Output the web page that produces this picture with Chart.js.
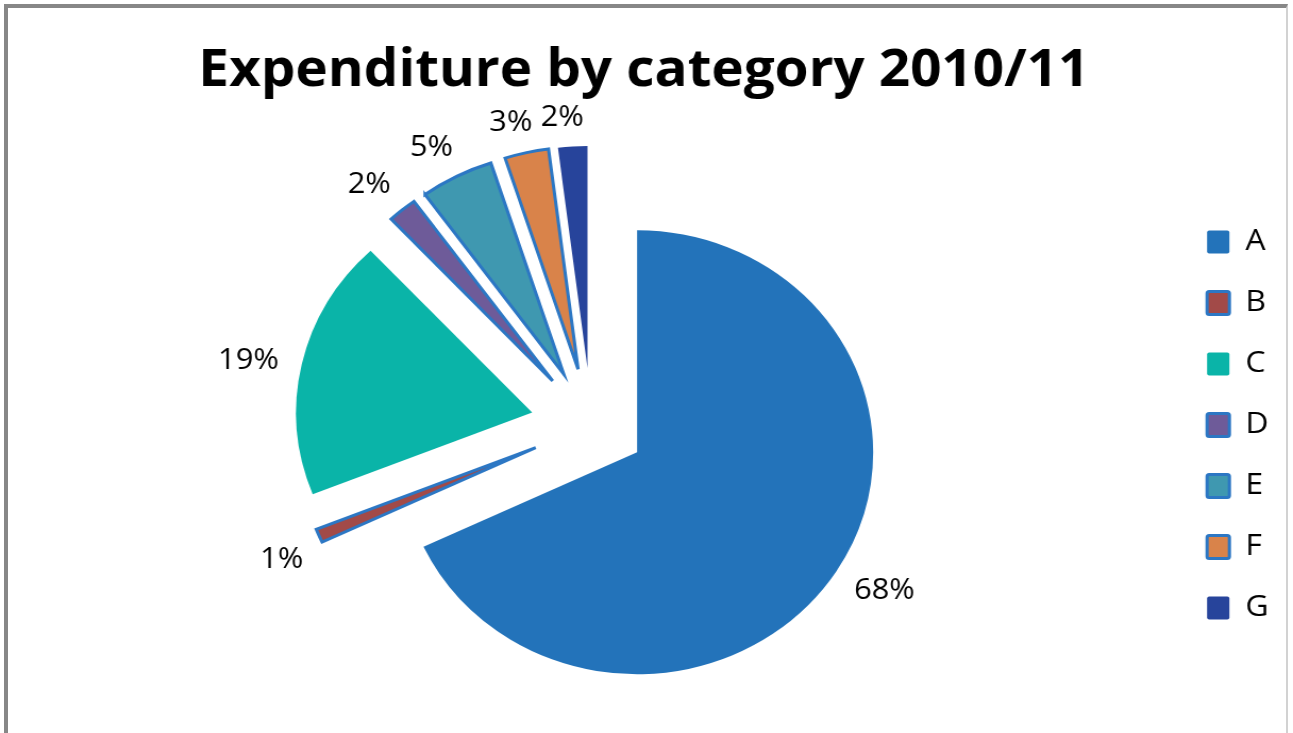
<!DOCTYPE html>
<html lang="en">
<head>
    <meta charset="UTF-8">
    <title>Expenditure by category 2010/11</title>
    <script src="https://cdn.jsdelivr.net/npm/chart.js"></script>
    <style>
        body {
            margin: 0;
            padding: 0;
            background: #ffffff;
            font-family: "Open Sans", sans-serif;
        }
        .wrap {
            position: relative;
            width: 1293px;
            height: 733px;
            overflow: hidden;
        }
        /* chart area frame */
        .frame {
            position: absolute;
            left: 4px;
            top: 4px;
            width: 1284px;
            height: 780px;
            box-sizing: border-box;
            border-left: 4px solid #878787;
            border-top: 4px solid #878787;
            border-right: 2px solid #d2d2d2;
        }
        #pieChart {
            position: absolute;
            left: 0;
            top: 0;
        }
    </style>
</head>
<body>
<div class="wrap">
    <div class="frame"></div>
    <!-- drawn at 1216 wide, shown a little wider -->
    <canvas id="pieChart" width="1216" height="733" style="width:1293px;height:733px"></canvas>
</div>
<script>
    // Spending shares, percent of total
    const categories = ['A', 'B', 'C', 'D', 'E', 'F', 'G'];
    const shares = [68, 1, 19, 2, 5, 3, 2];

    const fills = ['#2373ba', '#a24a48', '#0ab4a8', '#6e5b99', '#3f98b0', '#d9834a', '#27449b'];
    const edge = '#2c77c4';
    const edgeWidths = [0, 3, 0, 3, 3, 3, 0];
    // how far each slice is pulled away from the centre
    const explode = [51, 57, 57, 57, 57, 57, 57];
    const LABEL_GAP = 20;
    const LABEL_SHIFT = 8; // nudge labels a little anticlockwise

    Chart.defaults.color = '#000';
    Chart.defaults.font.family = '"Open Sans", sans-serif';

    const explodeSlices = {
        id: 'explodeSlices',
        afterDatasetUpdate(chart, args) {
            args.meta.data.forEach((arc, i) => {
                const mid = (arc.startAngle + arc.endAngle) / 2;
                arc.x += Math.cos(mid) * explode[i];
                arc.y += Math.sin(mid) * explode[i];
            });
        }
    };

    // percentage labels just outside each slice
    const pctLabels = {
        id: 'pctLabels',
        afterDatasetsDraw(chart) {
            const ctx = chart.ctx;
            const meta = chart.getDatasetMeta(0);
            const total = shares.reduce((a, b) => a + b, 0);
            ctx.save();
            ctx.font = '29px "Open Sans"';
            ctx.fillStyle = '#000';
            ctx.textAlign = 'center';
            ctx.textBaseline = 'middle';
            meta.data.forEach((arc, i) => {
                const mid = (arc.startAngle + arc.endAngle) / 2;
                const ux = Math.cos(mid), uy = Math.sin(mid);
                const text = Math.round(shares[i] / total * 100) + '%';
                const w = ctx.measureText(text).width;
                const d = arc.outerRadius + LABEL_GAP + Math.abs(ux) * w / 2 + Math.abs(uy) * 8;
                const x = arc.x + ux * d + uy * LABEL_SHIFT;
                const y = arc.y + uy * d - ux * LABEL_SHIFT;
                ctx.fillText(text, x, y);
            });
            ctx.restore();
        }
    };

    const ctx = document.getElementById('pieChart').getContext('2d');
    new Chart(ctx, {
        type: 'pie',
        data: {
            labels: categories,
            datasets: [{
                data: shares,
                backgroundColor: fills,
                borderColor: edge,
                borderWidth: edgeWidths,
                borderJoinStyle: 'miter',
                radius: 222
            }]
        },
        options: {
            responsive: false,
            animation: false,
            events: [],
            layout: {
                padding: { left: 8, right: 13, top: 0, bottom: 0 }
            },
            plugins: {
                title: {
                    display: true,
                    text: 'Expenditure by category 2010/11',
                    color: '#000',
                    font: { size: 51.5, weight: 'bold', lineHeight: 1.2 },
                    padding: { top: 40, bottom: 15 }
                },
                legend: {
                    position: 'right',
                    fullSize: false,
                    labels: {
                        boxWidth: 21,
                        boxHeight: 23,
                        padding: 31,
                        useBorderRadius: true,
                        borderRadius: 2,
                        color: '#000',
                        font: { size: 30 }
                    }
                },
                tooltip: { enabled: false }
            }
        },
        plugins: [explodeSlices, pctLabels]
    });
</script>
</body>
</html>
